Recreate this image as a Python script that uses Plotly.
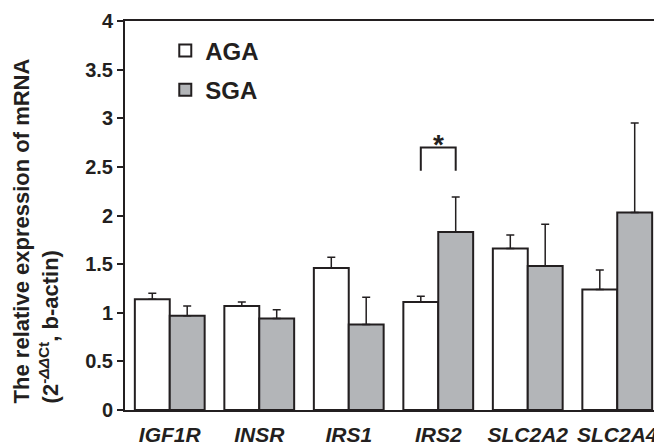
import plotly.graph_objects as go

genes = ["IGF1R", "INSR", "IRS1", "IRS2", "SLC2A2", "SLC2A4"]
aga_mean = [1.14, 1.07, 1.46, 1.11, 1.66, 1.24]
aga_err = [0.06, 0.04, 0.11, 0.06, 0.14, 0.20]
sga_mean = [0.97, 0.94, 0.88, 1.83, 1.48, 2.03]
sga_err = [0.10, 0.09, 0.28, 0.36, 0.43, 0.92]
y_ticks = [0, 0.5, 1, 1.5, 2, 2.5, 3, 3.5, 4]
y_tick_labels = ["0", "0.5", "1", "1.5", "2", "2.5", "3", "3.5", "4"]
sig_gene = "IRS2"
sig_top = 2.70
sig_leg_bottom = 2.46

FONT = "Liberation Sans, Arial, Helvetica, sans-serif"
INK = "#231f20"
GRAY = "#b3b5b8"

fig = go.Figure()
fig.add_trace(go.Bar(
    name="AGA", x=genes, y=aga_mean,
    marker=dict(color="white", line=dict(color=INK, width=2)),
    error_y=dict(type="data", array=aga_err, arrayminus=[0] * len(genes), symmetric=False,
                 color=INK, thickness=1.5, width=4),
    legendgroup="a",
))
fig.add_trace(go.Bar(
    name="SGA", x=genes, y=sga_mean,
    marker=dict(color=GRAY, line=dict(color=INK, width=2)),
    error_y=dict(type="data", array=sga_err, arrayminus=[0] * len(genes), symmetric=False,
                 color=INK, thickness=1.5, width=4),
    legendgroup="b",
))

# significance bracket between the two IRS2 bars
gi = genes.index(sig_gene)
half = 0.195
fig.add_shape(type="path",
              path=f"M {gi - half} {sig_leg_bottom} L {gi - half} {sig_top} L {gi + half} {sig_top} L {gi + half} {sig_leg_bottom}",
              xref="x", yref="y", line=dict(color=INK, width=2))
fig.add_annotation(x=gi, y=sig_top, xref="x", yref="y", text="<b>*</b>", showarrow=False,
                   yanchor="bottom", yshift=-15, font=dict(family=FONT, size=28, color=INK))

fig.add_annotation(
    xref="paper", yref="paper", x=-0.164, y=0.013, xanchor="center", yanchor="bottom",
    text="The relative expression of mRNA<br>(2<sup>-<i>ΔΔ</i>Ct</sup>, b-actin)",
    textangle=-90, align="left", showarrow=False,
    font=dict(family=FONT, size=22, color=INK, weight="bold"),
)

# page body has an 8 px margin, so the figure is 8 px smaller on each axis
fig.update_layout(
    width=654, height=440,
    margin=dict(l=117, r=0, t=13, b=38),
    paper_bgcolor="white", plot_bgcolor="white",
    barmode="group", bargap=0.22, bargroupgap=0,
    showlegend=True,
    legend=dict(x=0.075, y=0.981, xanchor="left", yanchor="top",
                bgcolor="rgba(0,0,0,0)", tracegroupgap=5,
                font=dict(family=FONT, size=24, color=INK, weight="bold")),
    font=dict(family=FONT, color=INK),
)
fig.update_xaxes(
    showline=True, linecolor=INK, linewidth=2, mirror=True,
    ticks="", showgrid=False, ticklabelstandoff=5,
    tickfont=dict(family=FONT, size=21, color=INK, weight="bold", style="italic"),
)
fig.update_yaxes(
    range=[0, 4], tickvals=y_ticks, ticktext=y_tick_labels,
    showline=True, linecolor=INK, linewidth=2,
    ticks="outside", ticklen=6, tickwidth=1.5, tickcolor=INK,
    showgrid=False, zeroline=False, ticklabelstandoff=0,
    tickfont=dict(family=FONT, size=20, color=INK, weight="bold"),
)

fig.write_html("out.html")
